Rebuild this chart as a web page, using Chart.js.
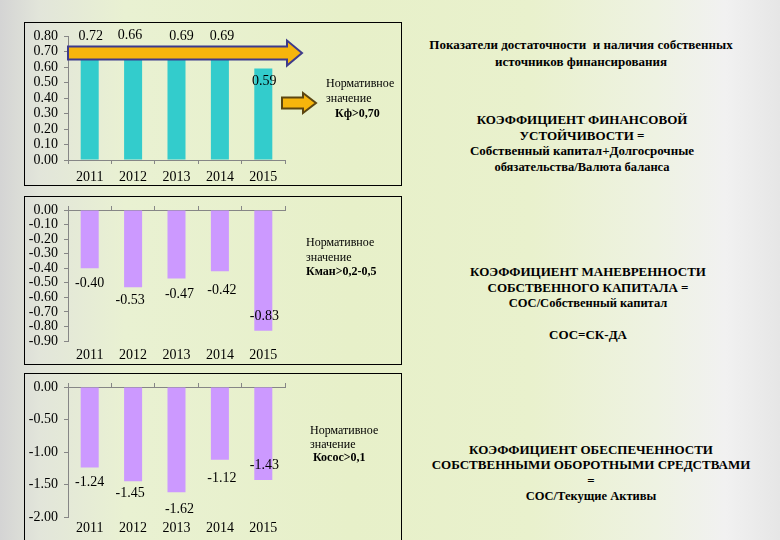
<!DOCTYPE html>
<html>
<head>
<meta charset="utf-8">
<script src="https://cdn.jsdelivr.net/npm/chart.js@4"></script>
<style>
    body {
        margin: 0; width: 780px; height: 540px; overflow: hidden; position: relative;
        font-family: "Liberation Serif", serif; color: #000;
        background: linear-gradient(90deg, #d4d4d4 0%, #e2e5da 5%, #e9f1d2 16%, #e7f0c9 45%, #e9f1cd 68%, #eef2e2 84%, #f1f1f1 93%, #e6e6e6 100%);
    }
    .box { position: absolute; left: 24px; width: 376px; border: 1px solid #000; }
    .box canvas { position: absolute; left: 0; top: 0; }
    .norm { position: absolute; font-size: 12px; white-space: nowrap; }
    .txt { position: absolute; text-align: center; font-weight: bold; white-space: nowrap; font-size: 13px; }
    .sm { font-size: 12.5px; }
</style>
</head>
<body>
<div class="box" style="top:22px;height:162px"><canvas id="kf-chart" width="376" height="162"></canvas></div>
<div class="box" style="top:196px;height:167px"><canvas id="kman-chart" width="376" height="167"></canvas></div>
<div class="box" style="top:373px;height:172px"><canvas id="kosos-chart" width="376" height="166"></canvas></div>

<div class="norm" style="left:326px;top:76px;line-height:15px">Нормативное<br>значение<br><b style="padding-left:9px">Кф&gt;0,70</b></div>
<div class="norm" style="left:306px;top:235px;line-height:14.5px">Нормативное<br>значение<br><b>Кман&gt;0,2-0,5</b></div>
<div class="norm" style="left:310px;top:424px;line-height:13.5px">Нормативное<br>значение<br><b style="padding-left:3px">Косос&gt;0,1</b></div>

<div class="txt" style="left:401px;width:360px;top:37px;line-height:16.5px">Показатели достаточности&nbsp; и наличия собственных<br>источников финансирования</div>
<div class="txt" style="left:402px;width:360px;top:112px;line-height:15.7px">КОЭФФИЦИЕНТ ФИНАНСОВОЙ<br>УСТОЙЧИВОСТИ =<br>Собственный капитал+Долгосрочные<br><span class="sm">обязательства/Валюта баланса</span></div>
<div class="txt" style="left:408px;width:360px;top:264px;line-height:15.5px">КОЭФФИЦИЕНТ МАНЕВРЕННОСТИ<br>СОБСТВЕННОГО КАПИТАЛА =<br><span class="sm">СОС/Собственный капитал</span><br>&nbsp;<br>СОС=СК-ДА</div>
<div class="txt" style="left:411px;width:360px;top:442px;line-height:15.3px">КОЭФФИЦИЕНТ ОБЕСПЕЧЕННОСТИ<br>СОБСТВЕННЫМИ ОБОРОТНЫМИ СРЕДСТВАМИ<br>=<br><span class="sm">СОС/Текущие Активы</span></div>

<script>
// data
const years = ['2011', '2012', '2013', '2014', '2015'];
const kfValues = [0.72, 0.66, 0.69, 0.69, 0.59];        // коэффициент финансовой устойчивости
const kmanValues = [-0.40, -0.53, -0.47, -0.42, -0.83]; // коэффициент маневренности
const kososValues = [-1.24, -1.45, -1.62, -1.12, -1.43]; // коэффициент обеспеченности СОС
const kfNorm = 0.69; // where the big arrow sits (norm ~0.70)

// label nudges (px) so the numbers sit where they do on the slide
const kfDx = [1, -3, 5, 2, 1], kfDy = [-12, -22, -17, -17, 13];
const kmanDx = [0, -3, 3, 2, 1], kmanDy = [15, 13, 16, 19, -14];
const kososDx = [0, -3, 3, 2, 1], kososDy = [15, 12, 17, 19, -15];

const axisGrey = '#868686';
const font14 = { family: 'Liberation Serif', size: 14 };

function drawArrow(ctx, x1, x2, yc, shaftHalf, headHalf, headLen, stroke) {
    const xh = x2 - headLen;
    ctx.beginPath();
    ctx.moveTo(x1, yc - shaftHalf);
    ctx.lineTo(xh, yc - shaftHalf);
    ctx.lineTo(xh, yc - headHalf);
    ctx.lineTo(x2, yc);
    ctx.lineTo(xh, yc + headHalf);
    ctx.lineTo(xh, yc + shaftHalf);
    ctx.lineTo(x1, yc + shaftHalf);
    ctx.closePath();
    ctx.fillStyle = '#f6b50c';
    ctx.fill();
    ctx.lineWidth = 2;
    ctx.strokeStyle = stroke;
    ctx.stroke();
}

const arrows = {
    id: 'arrows',
    afterDatasetsDraw(chart, args, opts) {
        if (!opts.show) return;
        const ctx = chart.ctx, a = chart.chartArea;
        ctx.save();
        drawArrow(ctx, a.left, a.right + 17, chart.scales.y.getPixelForValue(kfNorm), 6.5, 12.5, 15, '#3d3a8c');
        drawArrow(ctx, a.right - 3, a.right + 31, a.top + 67, 5.5, 10, 13, '#5c4611');
        ctx.restore();
    }
};

const valueLabels = {
    id: 'valueLabels',
    afterDatasetsDraw(chart, args, opts) {
        const ctx = chart.ctx;
        const meta = chart.getDatasetMeta(0);
        ctx.save();
        ctx.font = '14px "Liberation Serif"';
        ctx.fillStyle = '#000';
        ctx.textAlign = 'center';
        ctx.textBaseline = 'middle';
        meta.data.forEach((bar, i) => {
            const v = chart.data.datasets[0].data[i];
            ctx.fillText(v.toFixed(2), bar.x + opts.dx[i], bar.y + opts.dy[i]);
        });
        ctx.restore();
    }
};

function makeChart(id, values, color, y, lay) {
    const negative = y.max === 0;
    const scales = {
        x: {
            afterFit: s => { s.height = lay.xh; },
            border: { display: !negative, color: axisGrey },
            grid: { offset: true, drawOnChartArea: false, drawTicks: !negative, tickLength: 4, color: axisGrey },
            ticks: { padding: lay.xpad, color: '#000', font: font14 }
        },
        y: {
            min: y.min, max: y.max,
            afterFit: s => { s.width = 43; },
            border: { color: axisGrey },
            grid: { drawOnChartArea: false, tickLength: 4, color: axisGrey },
            ticks: {
                stepSize: y.step, autoSkip: false, padding: 6, color: '#000',
                font: { ...font14, lineHeight: 1 }, callback: v => v.toFixed(2)
            }
        }
    };
    if (negative) {
        // zero line with tick marks at the top of the plot
        scales.x2 = {
            type: 'category', labels: years, position: 'top', offset: true,
            afterFit: s => { s.height = 0; },
            border: { color: axisGrey },
            grid: { offset: true, drawOnChartArea: false, tickLength: 4, color: axisGrey },
            ticks: { display: false }
        };
    }
    return new Chart(document.getElementById(id).getContext('2d'), {
        type: 'bar',
        data: {
            labels: years,
            datasets: [{ data: values, backgroundColor: color, barPercentage: 0.415, categoryPercentage: 1 }]
        },
        options: {
            responsive: false, animation: false,
            layout: { padding: { left: 0, right: 116, top: lay.top, bottom: 0 } },
            plugins: {
                legend: { display: false }, tooltip: { enabled: false },
                arrows: { show: id === 'kf-chart' },
                valueLabels: { dx: lay.dx, dy: lay.dy }
            },
            scales: scales
        },
        plugins: [arrows, valueLabels]
    });
}

makeChart('kf-chart', kfValues, '#33cccc', { min: 0, max: 0.8, step: 0.1 }, { top: 9, xh: 25, xpad: 5, dx: kfDx, dy: kfDy });
makeChart('kman-chart', kmanValues, '#cc99ff', { min: -0.9, max: 0, step: 0.1 }, { top: 8, xh: 23, xpad: 6, dx: kmanDx, dy: kmanDy });
makeChart('kosos-chart', kososValues, '#cc99ff', { min: -2, max: 0, step: 0.5 }, { top: 6, xh: 23, xpad: 3, dx: kososDx, dy: kososDy });
</script>
</body>
</html>
